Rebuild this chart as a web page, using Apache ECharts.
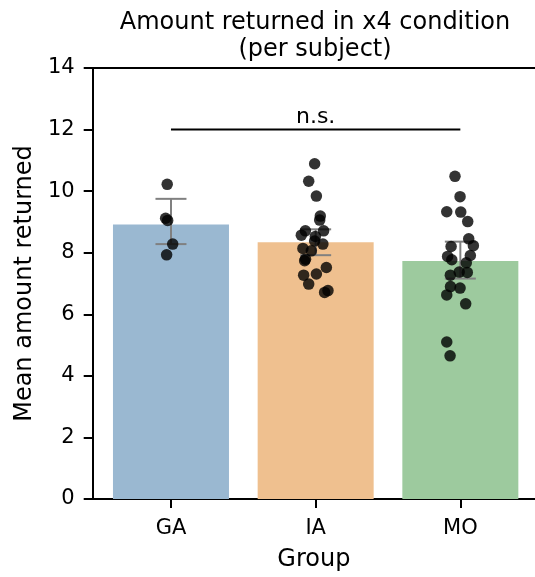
<!DOCTYPE html>
<html>
<head>
<meta charset="utf-8">
<script src="https://cdn.jsdelivr.net/npm/echarts@6/dist/echarts.min.js"></script>
<style>
  html, body { margin: 0; padding: 0; background: #fff; }
  #chart { width: 535px; height: 577px; }
</style>
</head>
<body>
<div id="chart"></div>
<script>
// Groups and their mean amount returned
const categories = ['GA', 'IA', 'MO'];
const means = [8.92, 8.34, 7.73];
// 95% CI bounds for each group mean
const ciLow = [8.28, 7.92, 7.16];
const ciHigh = [9.75, 8.76, 8.36];

// Per-subject amounts, with the strip-plot horizontal jitter (in category units)
const gaValues = [10.22, 9.12, 9.05, 8.28, 7.93];
const gaJitter = [-0.026, -0.037, -0.023, 0.012, -0.030];
const iaValues = [10.89, 10.32, 9.84, 9.19, 9.06, 8.71, 8.71, 8.57, 8.53, 8.38, 8.28,
                  8.14, 8.06, 7.79, 7.74, 7.52, 7.31, 7.27, 6.98, 6.77, 6.71];
const iaJitter = [-0.007, -0.048, 0.005, 0.032, 0.028, -0.071, 0.055, -0.099, -0.002, -0.007, 0.050,
                  -0.088, -0.030, -0.070, -0.076, 0.074, 0.005, -0.083, -0.048, 0.085, 0.062];
const moValues = [10.48, 9.82, 9.33, 9.32, 9.01, 8.45, 8.23, 8.20, 7.91, 7.88, 7.77,
                  7.67, 7.37, 7.36, 7.27, 6.90, 6.85, 6.63, 6.34, 5.10, 4.65];
const moJitter = [-0.037, -0.002, -0.094, 0.003, 0.051, 0.058, 0.090, -0.064, 0.069, -0.088, -0.059,
                  0.041, -0.008, 0.048, -0.069, -0.068, -0.002, -0.094, 0.037, -0.094, -0.071];

// Significance bracket between GA and MO
const sigFrom = 0;
const sigTo = 2;
const sigLevel = 12;
const sigLabel = 'n.s.';

const yTicks = [0, 2, 4, 6, 8, 10, 12, 14];

const barColors = ['#9ab8d1', '#efc08f', '#9dca9e'];
const FONT = 'DejaVu Sans';
const INK = '#000';

const chart = echarts.init(document.getElementById('chart'), null, { renderer: 'canvas' });

function stripData(values, jitter, idx) {
  return values.map((v, i) => [idx + jitter[i], v]);
}

const option = {
  animation: false,
  backgroundColor: '#fff',
  graphic: [{
    type: 'text',
    x: 315,
    y: 9,
    style: {
      text: 'Amount returned in x4 condition\n(per subject)',
      font: '24px "DejaVu Sans"',
      fill: INK,
      align: 'center',
      lineHeight: 27
    }
  }],
  grid: { left: 92.7, top: 68, right: 0, bottom: 75.5, containLabel: false },
  xAxis: [{
    type: 'value',
    min: -0.541,
    max: 2.516,
    name: 'Group',
    nameLocation: 'middle',
    nameGap: 49,
    nameTextStyle: { fontFamily: FONT, fontSize: 24, color: INK },
    axisLine: { show: true, onZero: false, lineStyle: { color: INK, width: 2 } },
    axisTick: { show: true, customValues: [0, 1, 2], length: 9, lineStyle: { color: INK, width: 2 } },
    axisLabel: {
      customValues: [0, 1, 2],
      formatter: v => categories[Math.round(v)],
      fontFamily: FONT, fontSize: 21, color: INK, margin: 19
    },
    splitLine: { show: false }
  }, {
    type: 'value',
    position: 'top',
    min: -0.541,
    max: 2.516,
    axisLine: { show: true, onZero: false, lineStyle: { color: INK, width: 2 } },
    axisTick: { show: false },
    axisLabel: { show: false },
    splitLine: { show: false }
  }],
  yAxis: {
    type: 'value',
    min: 0,
    max: 14,
    interval: 2,
    name: 'Mean amount returned',
    nameLocation: 'middle',
    nameGap: 51,
    nameTextStyle: { fontFamily: FONT, fontSize: 24, color: INK },
    axisLine: { show: true, onZero: false, lineStyle: { color: INK, width: 2 } },
    axisTick: { show: true, length: 9, lineStyle: { color: INK, width: 2 } },
    axisLabel: {
      customValues: yTicks,
      fontFamily: FONT, fontSize: 21, color: INK, margin: 18
    },
    splitLine: { show: false }
  },
  series: [
    {
      type: 'bar',
      barWidth: 116,
      data: means.map((m, i) => ({ value: [i, m], itemStyle: { color: barColors[i] } })),
      z: 1
    },
    {
      // confidence-interval whiskers with caps
      type: 'custom',
      data: categories.map((c, i) => [i, ciLow[i], ciHigh[i]]),
      z: 2,
      renderItem: (params, api) => {
        const lo = api.coord([api.value(0), api.value(1)]);
        const hi = api.coord([api.value(0), api.value(2)]);
        const cap = 15.5;
        const style = { stroke: '#808080', lineWidth: 2 };
        return {
          type: 'group',
          children: [
            { type: 'line', shape: { x1: lo[0], y1: lo[1], x2: hi[0], y2: hi[1] }, style },
            { type: 'line', shape: { x1: lo[0] - cap, y1: lo[1], x2: lo[0] + cap, y2: lo[1] }, style },
            { type: 'line', shape: { x1: hi[0] - cap, y1: hi[1], x2: hi[0] + cap, y2: hi[1] }, style }
          ]
        };
      }
    },
    ...[[gaValues, gaJitter], [iaValues, iaJitter], [moValues, moJitter]].map(([vals, jit], idx) => ({
      type: 'scatter',
      data: stripData(vals, jit, idx),
      symbolSize: 11.5,
      itemStyle: { color: '#000', opacity: 0.8 },
      z: 3
    })),
    {
      // significance bracket
      type: 'custom',
      data: [[sigFrom, sigTo, sigLevel]],
      z: 4,
      renderItem: (params, api) => {
        const a = api.coord([api.value(0), api.value(2)]);
        const b = api.coord([api.value(1), api.value(2)]);
        return {
          type: 'group',
          children: [
            { type: 'line', shape: { x1: a[0], y1: a[1], x2: b[0], y2: b[1] }, style: { stroke: INK, lineWidth: 2 } },
            {
              type: 'text',
              x: (a[0] + b[0]) / 2,
              y: a[1] - 1,
              style: {
                text: sigLabel,
                font: '22px "DejaVu Sans"',
                fill: INK,
                align: 'center',
                verticalAlign: 'bottom'
              }
            }
          ]
        };
      }
    }
  ]
};

chart.setOption(option);
</script>
</body>
</html>
